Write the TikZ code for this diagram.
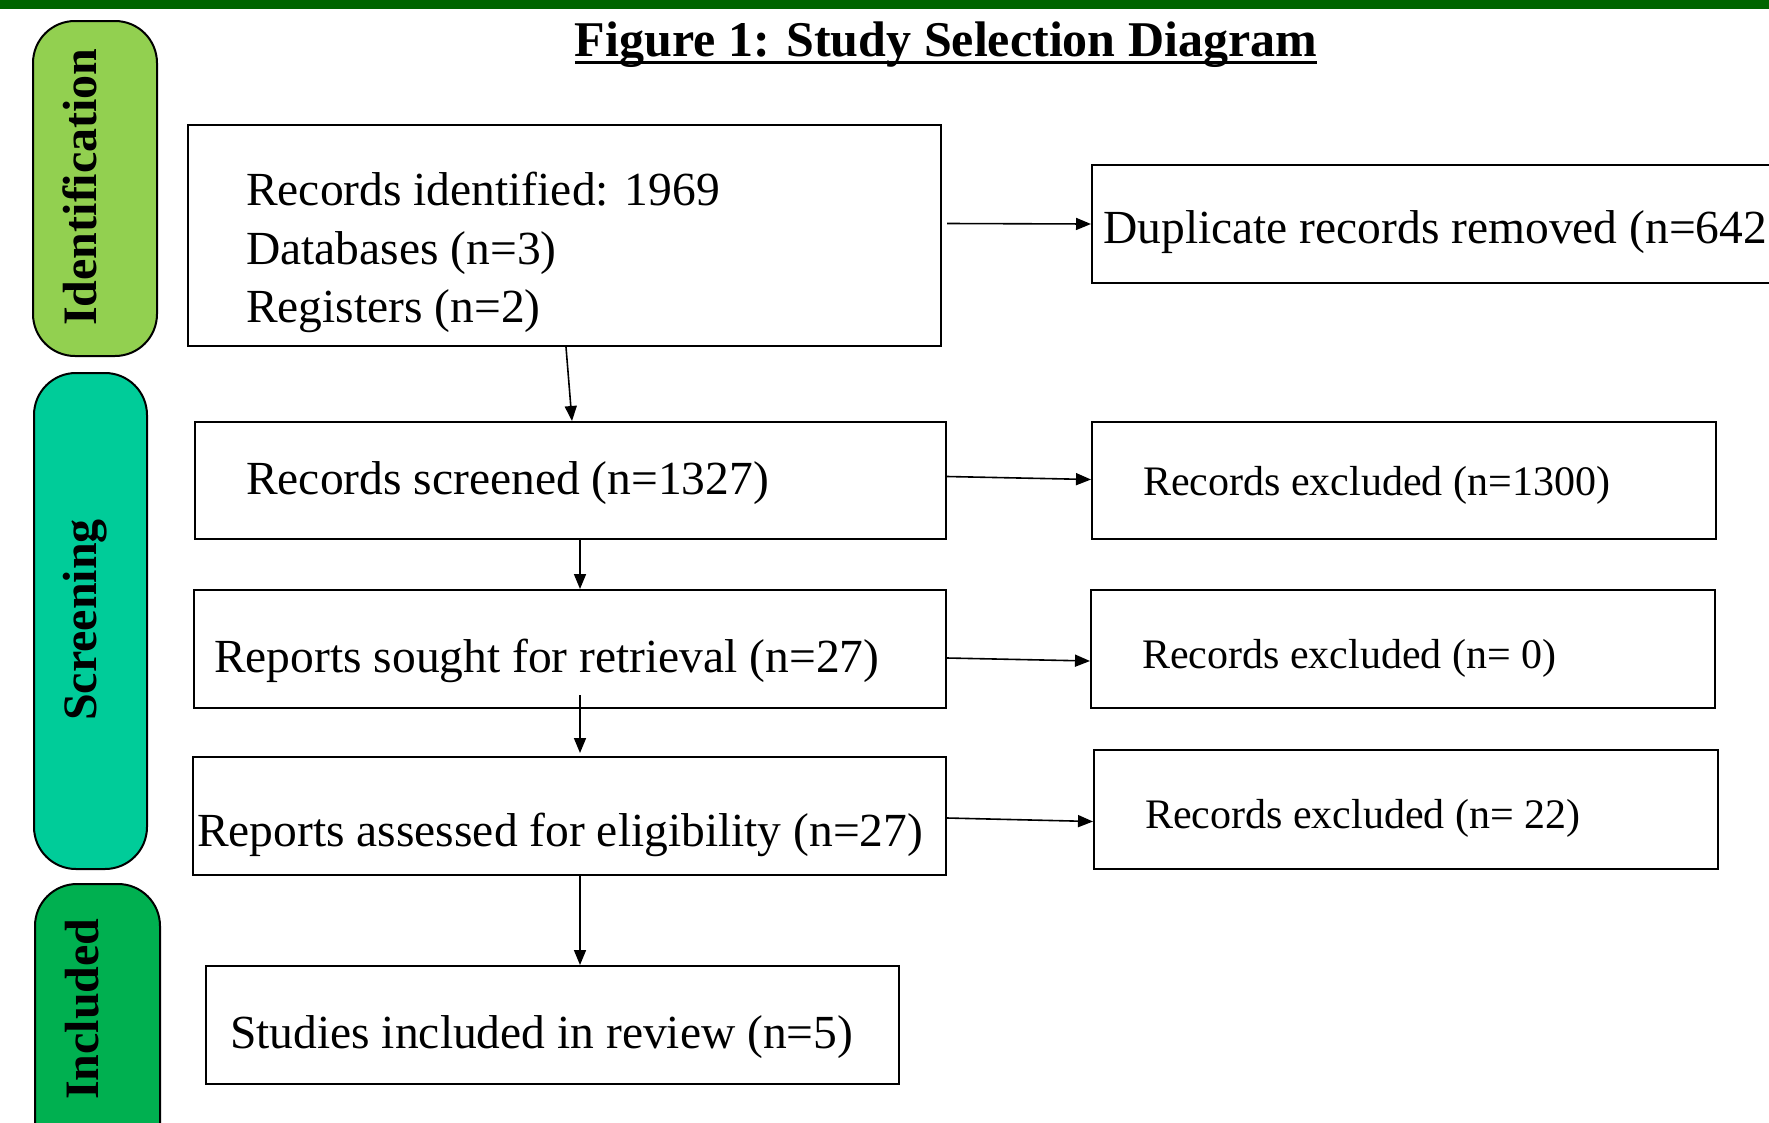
\documentclass[tikz,border=0pt]{standalone}
\usepackage{fontspec}
\setmainfont{Liberation Serif}
\usetikzlibrary{arrows.meta,calc}
\definecolor{topgreen}{HTML}{006400}
\definecolor{idgreen}{HTML}{92D050}
\definecolor{scrgreen}{HTML}{00CC99}
\definecolor{incgreen}{HTML}{00B050}
\tikzset{
  box/.style={draw=black, line width=2pt, rectangle, inner sep=0pt, anchor=north west},
  mtext/.style={anchor=west, inner sep=0pt, align=left, font=\fontsize{47.5}{58.7}\selectfont},
  etext/.style={anchor=west, inner sep=0pt, align=left, font=\fontsize{42}{50}\selectfont},
  pill/.style={draw=black, line width=2pt, rounded corners=42pt, anchor=north west},
  pilltext/.style={rotate=90, font=\bfseries\fontsize{48}{52}\selectfont, inner sep=0pt},
  arr/.style={line width=1.6pt, -{Triangle[length=15pt,width=12pt]}},
}
\begin{document}
\begin{tikzpicture}[x=1pt,y=-1pt]
\useasboundingbox (0,0) rectangle (1769,1122);
\clip (0,0) rectangle (1769,1122);
\fill[white] (0,0) rectangle (1769,1122);
\fill[topgreen] (0,0) rectangle (1769,9);

% phase pills
\node[pill, fill=idgreen, minimum width=124pt, minimum height=335pt] (pid) at (32,20) {};
\node[pilltext] (tid) at (80,187) {Identification};
\node[pill, fill=scrgreen, minimum width=113pt, minimum height=496pt] (pscr) at (33,372) {};
\node[pilltext] (tscr) at (85,620) {Screening};
\node[pill, fill=incgreen, minimum width=125pt, minimum height=300pt] (pinc) at (34,883) {};
\node[pilltext] (tinc) at (82,1009) {Included};

% title
\node[inner sep=0pt, font=\bfseries\fontsize{50}{56}\selectfont] (title) at (946,45) {Figure 1: Study Selection Diagram};
\draw[line width=3pt] ([yshift=-6pt]title.base west) -- ([yshift=-6pt]title.base east);

% main boxes
\node[box, minimum width=753pt, minimum height=221pt] (ident) at (187,124) {};
\node[mtext] (identt) at ($(ident.west)+(59,17)$) {Records identified: 1969\\Databases (n=3)\\Registers (n=2)};
\node[box, minimum width=751pt, minimum height=117pt] (scr) at (194,421) {};
\node[mtext] (scrt) at ($(scr.west)+(52,3)$) {Records screened (n=1327)};
\node[box, minimum width=752pt, minimum height=118pt] (sought) at (193,589) {};
\node[mtext] (soughtt) at ($(sought.west)+(21,12)$) {Reports sought for retrieval (n=27)};
\node[box, minimum width=753pt, minimum height=118pt] (assess) at (192,756) {};
\node[mtext] (assesst) at ($(assess.west)+(5,19)$) {Reports assessed for eligibility (n=27)};
\node[box, minimum width=693pt, minimum height=118pt] (incl) at (205,965) {};
\node[mtext] (inclt) at ($(incl.west)+(25,12)$) {Studies included in review (n=5)};

% side boxes
\node[box, minimum width=800pt, minimum height=118pt] (dup) at (1091,164) {};
\node[mtext] (dupt) at ($(dup.west)+(12,8)$) {Duplicate records removed (n=642};
\node[box, minimum width=624pt, minimum height=117pt] (ex1) at (1091,421) {};
\node[etext] (ex1t) at ($(ex1.west)+(52,5)$) {Records excluded (n=1300)};
\node[box, minimum width=624pt, minimum height=118pt] (ex2) at (1090,589) {};
\node[etext] (ex2t) at ($(ex2.west)+(52,9)$) {Records excluded (n= 0)};
\node[box, minimum width=624pt, minimum height=119pt] (ex3) at (1093,749) {};
\node[etext] (ex3t) at ($(ex3.west)+(52,9)$) {Records excluded (n= 22)};

% connectors
\draw[arr] ([xshift=-376pt]ident.south east) -- ([xshift=-375pt]scr.north east);
\draw[arr] ([xshift=5pt,yshift=12pt]ident.east) -- (dup.west);
\draw[arr] ([yshift=4pt]scr.east) -- ([yshift=1pt]ex1.west);
\draw[arr] ([xshift=-367pt]scr.south east) -- ([xshift=-367pt]sought.north east);
\draw[arr] ([yshift=-9pt]sought.east) -- ([yshift=-12pt]ex2.west);
\draw[arr] ([xshift=-367pt,yshift=14pt]sought.south east) -- ([xshift=-367pt,yshift=3pt]assess.north east);
\draw[arr] ([yshift=-2pt]assess.east) -- ([yshift=-12pt]ex3.west);
\draw[arr] ([xshift=-367pt,yshift=2pt]assess.south east) -- ([xshift=-320pt]incl.north east);
\end{tikzpicture}
\end{document}
